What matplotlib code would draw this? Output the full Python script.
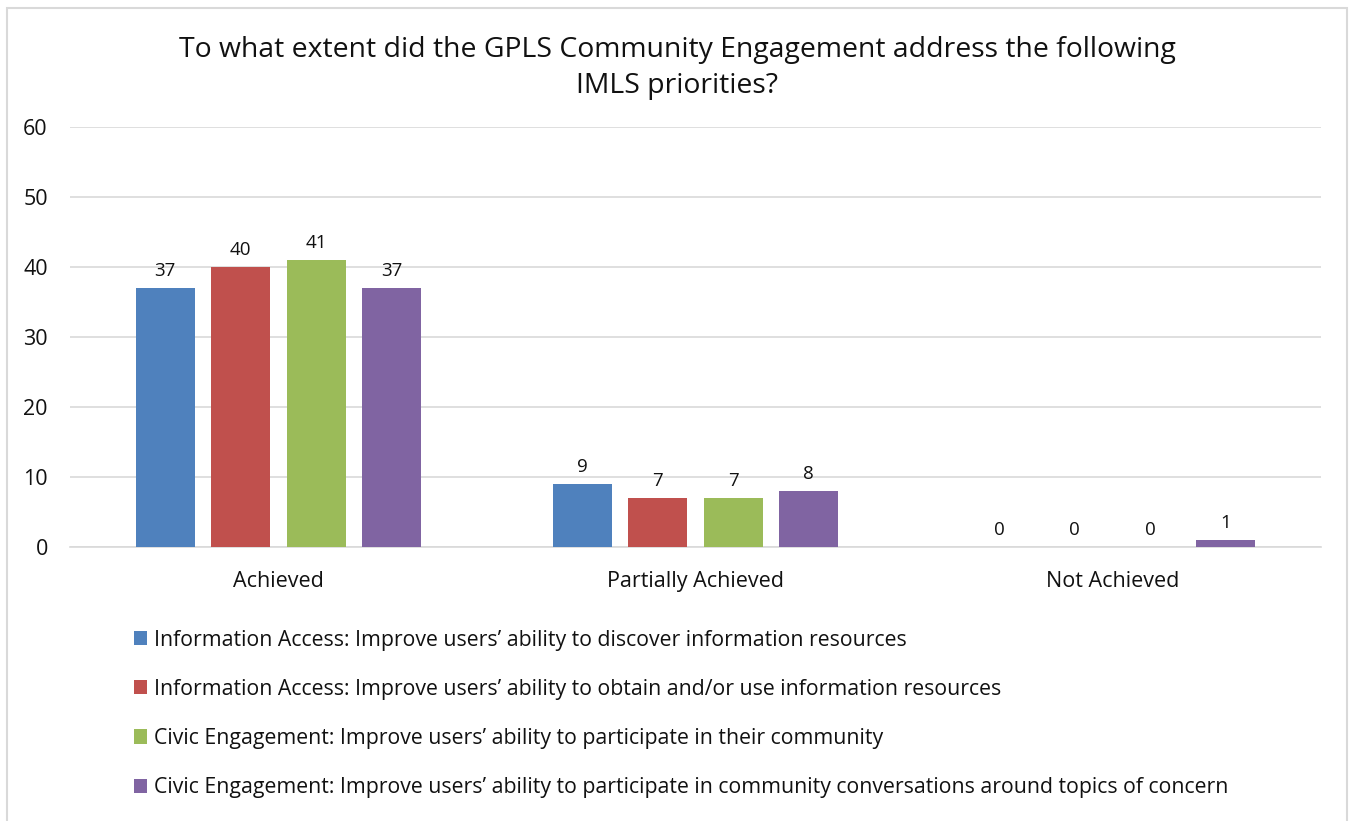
import numpy as np
import matplotlib.pyplot as plt
from matplotlib.patches import Rectangle

# ---  DATA  --- #
categories = ['Achieved', 'Partially Achieved', 'Not Achieved']
series_names = [
    'Information Access: Improve users\u2019 ability to discover information resources',
    'Information Access: Improve users\u2019 ability to obtain and/or use information resources',
    'Civic Engagement: Improve users\u2019 ability to participate in their community',
    'Civic Engagement: Improve users\u2019 ability to participate in community conversations around topics of concern',
]
discover_vals = [37, 9, 0]
obtain_vals = [40, 7, 0]
participate_vals = [41, 7, 0]
conversations_vals = [37, 8, 1]
y_ticks = [0, 10, 20, 30, 40, 50, 60]

title = 'To what extent did the GPLS Community Engagement address the following\nIMLS priorities?'

# ---  STYLE  --- #
plt.rcParams['font.family'] = ['Open Sans', 'DejaVu Sans']
colors = ['#4F81BD', '#C0504D', '#9BBB59', '#8064A2']
text_color = '#111111'
grid_color = '#D9D9D9'

fig = plt.figure(figsize=(13.49, 8.21), dpi=100)
ax = fig.add_axes([70 / 1349, 1 - 547 / 821, 1251 / 1349, 420 / 821])

all_vals = [discover_vals, obtain_vals, participate_vals, conversations_vals]
ind = np.arange(len(categories))
bar_w = 0.1415
step = 0.181
for i, vals in enumerate(all_vals):
    shift = ind + (i - 1.5) * step
    bars = ax.bar(shift, vals, bar_w, color=colors[i], label=series_names[i], zorder=3)
    for b, v in zip(bars, vals):
        ax.text(b.get_x() + b.get_width() / 2, v + 1.2, str(v),
                ha='center', va='bottom', fontsize=13.5, color=text_color)

ax.set_xlim(-0.5, len(categories) - 0.5)
ax.set_ylim(0, 60)
ax.set_yticks(y_ticks)
ax.set_xticks(ind)
ax.set_xticklabels(categories)
ax.tick_params(axis='both', length=0, labelsize=15.5, colors=text_color)
ax.tick_params(axis='y', pad=16)
ax.tick_params(axis='x', pad=17)
ax.grid(True, axis='y', color=grid_color, linewidth=1.2, zorder=0)
for s in ['top', 'right', 'left']:
    ax.spines[s].set_visible(False)
ax.spines['bottom'].set_color(grid_color)
ax.spines['bottom'].set_linewidth(1.2)

fig.text(677 / 1349, 1 - 68 / 821, title, ha='center', va='center',
         fontsize=20.4, color=text_color, linespacing=1.35)

leg = fig.legend(loc='upper left', bbox_to_anchor=(125 / 1349, 1 - 621 / 821),
                 frameon=False, fontsize=15.3, handlelength=0.65, handleheight=0.65,
                 handletextpad=0.33, labelspacing=1.33, borderaxespad=0)
for t in leg.get_texts():
    t.set_color(text_color)

fig.patches.append(Rectangle((7 / 1349, -0.05), 1340 / 1349, 1.05 - 8 / 821,
                             transform=fig.transFigure, fill=False,
                             edgecolor=grid_color, linewidth=1.5))

fig.savefig('out.png', dpi=100)
